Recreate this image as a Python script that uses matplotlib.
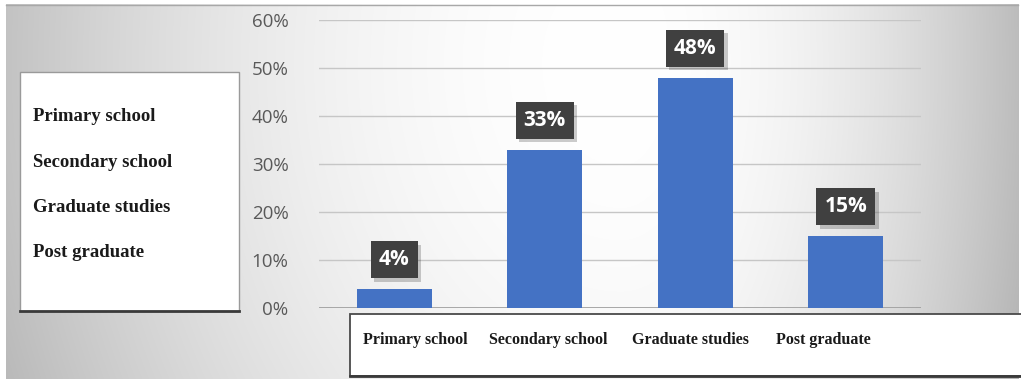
import numpy as np
import matplotlib.pyplot as plt
import matplotlib.patheffects as pe
from matplotlib.patches import Rectangle
from matplotlib.lines import Line2D
from matplotlib.ticker import FuncFormatter

# Education level shares (percent)
categories = ['Primary school', 'Secondary school', 'Graduate studies', 'Post graduate']
values = [4, 33, 48, 15]
y_ticks = [0, 10, 20, 30, 40, 50, 60]

W, H = 1021, 379
fig = plt.figure(figsize=(W / 100, H / 100), dpi=100)
fig.patch.set_facecolor('white')


def fx(x):
    return x / W


def fy(y):
    return 1 - y / H


# --- soft grey background, lightest a little right of centre ---
bg = fig.add_axes([0, 0, 1, 1], zorder=0)
bg.set_xlim(0, W)
bg.set_ylim(H, 0)
bg.axis('off')
xx, yy = np.meshgrid(np.arange(W), np.arange(H))
dx = np.where(xx < 620, (xx - 620) / 700.0, (xx - 620) / 430.0)
dy = (yy - 60) / 900.0
d2 = dx ** 2 + dy ** 2
shade = 1.0 - 0.3 * d2
img = np.dstack([shade, shade, shade])
bg.imshow(img, extent=(6, 1018, 379, 4), aspect='auto', zorder=0)
bg.add_line(Line2D([6, 1018], [4.5, 4.5], color='#a8a8a8', lw=1, zorder=1))

# --- bar chart ---
ax = fig.add_axes([fx(319), fy(308), fx(921 - 319), (308 - 20) / H], zorder=2)
ax.patch.set_alpha(0)
x = np.arange(len(categories))
ax.bar(x, values, width=0.5, color='#4472C4', zorder=3)
ax.set_xlim(-0.5, len(categories) - 0.5)
ax.set_ylim(0, 60)
ax.set_yticks(y_ticks)
ax.yaxis.set_major_formatter(FuncFormatter(lambda v, _: f'{v:.0f}%'))
ax.set_xticks(x)
ax.set_xticklabels([])
ax.tick_params(axis='both', length=0)
ax.tick_params(axis='y', pad=22, labelsize=13.5, labelcolor='#595959')
for lbl in ax.get_yticklabels():
    lbl.set_family('Open Sans')
ax.grid(axis='y', color='#c6c6c6', lw=1, zorder=1)
ax.axhline(0, color='#9c9c9c', lw=1.2, zorder=2)
for s in ax.spines.values():
    s.set_visible(False)

# value labels in dark boxes with a faint drop shadow
for i, v in enumerate(values):
    ann = ax.annotate(f'{v}%', xy=(i, v), xytext=(0, 21), textcoords='offset points',
                      ha='center', va='center', fontsize=15, fontweight='bold',
                      family='Open Sans', color='white', zorder=5,
                      bbox=dict(boxstyle='square,pad=0.38', fc='#404040', ec='none'))
    ann.get_bbox_patch().set_path_effects([
        pe.SimplePatchShadow(offset=(2.5, -2.5), shadow_rgbFace='black', alpha=0.2),
        pe.Normal()])

# --- left text box ---
box_l = Rectangle((20, 72), 219, 239, transform=bg.transData,
                  fc='white', ec='#9a9a9a', lw=1, zorder=3)
bg.add_patch(box_l)
bg.add_line(Line2D([20, 239], [311, 311], color='#3a3a3a', lw=2, zorder=4))
for name, yb in zip(categories, [121, 167, 212, 257]):
    bg.text(33, yb, name, ha='left', va='baseline', fontsize=13.5,
            family='Liberation Serif', fontweight='bold', color='#1a1a1a', zorder=5)

# --- bottom category strip ---
box_b = Rectangle((350, 314), 680, 62, transform=bg.transData,
                  fc='white', ec='#4a4a4a', lw=1.3, zorder=3)
bg.add_patch(box_b)
bg.add_line(Line2D([350, 1021], [375.5, 375.5], color='#3a3a3a', lw=2, zorder=4))
for name, xl in zip(categories, [363, 489, 632, 776]):
    bg.text(xl, 344, name, ha='left', va='baseline', fontsize=11.5,
            family='Liberation Serif', fontweight='bold', color='#1a1a1a', zorder=5)

fig.savefig('out.png', dpi=100)
